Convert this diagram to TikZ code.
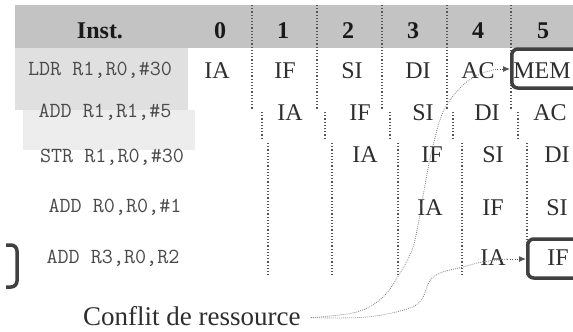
\documentclass[tikz,border=0pt]{standalone}
\usepackage{fontspec}
\setmainfont{Liberation Serif}
\usetikzlibrary{arrows.meta}
\definecolor{hdrgrey}{HTML}{C3C3C3}
\definecolor{rowone}{HTML}{E0E0E0}
\definecolor{rowtwo}{HTML}{EDEDED}
\definecolor{stagecol}{HTML}{2E2E2E}
\definecolor{instrcol}{HTML}{4A4A4A}
\definecolor{sepcol}{HTML}{555555}
\definecolor{curvecol}{HTML}{7A7A7A}
\definecolor{boxcol}{HTML}{404040}
\tikzset{
  stage/.style={font=\fontsize{24}{24}\selectfont, text=stagecol, inner sep=0pt, anchor=base},
  instr/.style={font=\ttfamily\fontsize{21.5}{21.5}\selectfont, text=instrcol, inner sep=0pt, anchor=base},
  hdr/.style={font=\bfseries\fontsize{24}{24}\selectfont, text=black!90, inner sep=0pt, anchor=base},
  vsep/.style={draw=sepcol, line width=1.2pt, dash pattern=on 1.2pt off 2pt},
  conflictbox/.style={draw=boxcol, line width=3.5pt, rounded corners=6pt, fill=white, inner sep=0pt},
  curve/.style={draw=curvecol, line width=0.8pt, dash pattern=on 0.8pt off 1.2pt},
  shortarrow/.style={draw=sepcol, line width=1pt, dash pattern=on 1pt off 1.6pt, -{Latex[length=7pt,width=6pt]}}
}
\begin{document}
\begin{tikzpicture}[x=1pt,y=-1pt]
\clip (0,0) rectangle (573,332);
\fill[white] (0,0) rectangle (573,332);
% header band and instruction highlights
\fill[hdrgrey] (15,5) rectangle (573,48);
\fill[rowone] (15,48) rectangle (188,110);
\fill[rowtwo] (23,110) rectangle (195,150);
% dotted column separators
\foreach \x in {252,317,382,447,511} \draw[vsep] (\x,5) -- (\x,110);
\foreach \x in {262,325,390,453,518} \draw[vsep] (\x,112) -- (\x,139);
\foreach \x in {268,332,398,462,527} \draw[vsep] (\x,143) -- (\x,276);
% header
\node[hdr] (hinst) at (100,38) {Inst.};
\node[hdr] (h0) at (220,38) {0};
\node[hdr] (h1) at (283,38) {1};
\node[hdr] (h2) at (348,38) {2};
\node[hdr] (h3) at (413,38) {3};
\node[hdr] (h4) at (478,38) {4};
\node[hdr] (h5) at (543,38) {5};
% instructions
\node[instr] (i1) at (100,75) {LDR R1,R0,\#30};
\node[instr] (i2) at (105,117) {ADD R1,R1,\#5};
\node[instr] (i3) at (112,162) {STR R1,R0,\#30};
\node[instr] (i4) at (115,212) {ADD R0,R0,\#1};
\node[instr] (i5) at (113,263) {ADD R3,R0,R2};
% conflict boxes
\node[conflictbox, anchor=west, minimum width=90pt, minimum height=39pt] (membox) at (510,68.5) {};
\node[conflictbox, anchor=west, minimum width=90pt, minimum height=39pt] (ifbox) at (526,258.5) {};
\draw[draw=boxcol, line width=3.5pt, rounded corners=6pt] (6,245) -- (17,245) -- (17,287) -- (6,287);
% stages row 1
\node[stage] (r1a) at (217,78) {IA};
\node[stage] (r1b) at (285,78) {IF};
\node[stage] (r1c) at (352,78) {SI};
\node[stage] (r1d) at (418,78) {DI};
\node[stage] (r1e) at (478,78) {AC};
\node[stage] (r1f) at (542,78) {MEM};
% stages row 2
\node[stage] (r2a) at (290,120) {IA};
\node[stage] (r2b) at (360,120) {IF};
\node[stage] (r2c) at (423,120) {SI};
\node[stage] (r2d) at (487,120) {DI};
\node[stage] (r2e) at (550,120) {AC};
% stages row 3
\node[stage] (r3a) at (365,162) {IA};
\node[stage] (r3b) at (432,162) {IF};
\node[stage] (r3c) at (493,162) {SI};
\node[stage] (r3d) at (557,162) {DI};
% stages row 4
\node[stage] (r4a) at (430,215) {IA};
\node[stage] (r4b) at (493,215) {IF};
\node[stage] (r4c) at (557,215) {SI};
% stages row 5
\node[stage] (r5a) at (493,265) {IA};
\node[stage] (r5b) at (558,265) {IF};
% label
\node[font=\fontsize{27}{27}\selectfont, text=stagecol, inner ysep=0pt, inner xsep=0pt, anchor=base west] (conflit) at (83,325) {Conflit de ressource};
\coordinate (cstart) at ([xshift=10pt,yshift=-2pt]conflit.east);
\coordinate (acend) at (497,69);
\coordinate (iaend) at (507,259);
% arrows
\draw[shortarrow] (acend) -- (acend -| membox.west);
\draw[shortarrow] (iaend) -- (iaend -| ifbox.west);
% curves
\draw[curve] plot[smooth, tension=0.6] coordinates {(cstart) (357,312) (383,297) (400,273) (412,250) (418,225) (425,185) (432,150) (443,112) (460,88) (478,75) (acend)};
\draw[curve] plot[smooth, tension=0.6] coordinates {(cstart) (367,317) (410,308) (423,297) (429,282) (440,273) (463,267) (482,262) (iaend)};
\end{tikzpicture}
\end{document}
